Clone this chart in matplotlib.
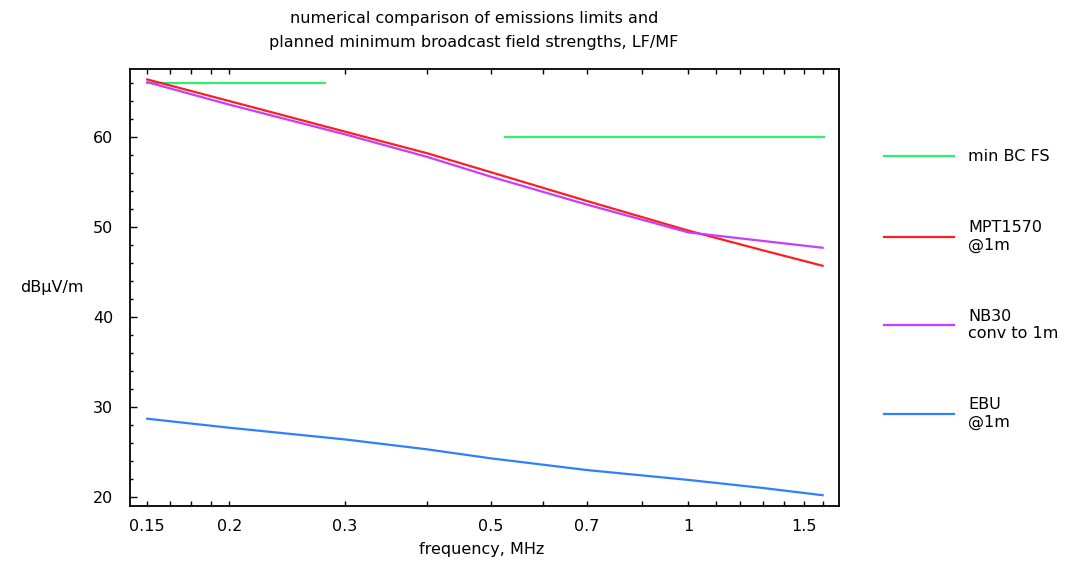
import matplotlib
matplotlib.use('Agg')
import matplotlib.pyplot as plt
import numpy as np
from matplotlib.ticker import FixedLocator, FixedFormatter, NullFormatter

# frequency grid, MHz
freq_mhz = [0.15, 0.2, 0.3, 0.4, 0.5, 0.7, 1.0, 1.3, 1.6]

# limits and field strengths, dBuV/m
mpt1570 = [66.4, 64.0, 60.6, 58.2, 56.1, 52.9, 49.6, 47.4, 45.7]
nb30 = [66.1, 63.6, 60.3, 57.8, 55.6, 52.5, 49.4, 48.45, 47.7]
ebu = [28.7, 27.7, 26.4, 25.3, 24.3, 23.0, 21.9, 21.0, 20.2]

# planned minimum broadcast field strength: LF band, then MF band
min_bc_freq = [0.15, 0.28, np.nan, 0.5265, 1.6065]
min_bc_fs = [66, 66, np.nan, 60, 60]

x_major = [0.15, 0.2, 0.3, 0.5, 0.7, 1.0, 1.5]
x_major_labels = ["0.15", "0.2", "0.3", "0.5", "0.7", "1", "1.5"]
x_minor = [0.1625, 0.175, 0.1875, 0.4, 0.6, 0.85, 1.1, 1.2, 1.3, 1.4, 1.6]

FONT = 11.5

fig = plt.figure(figsize=(10.71, 5.62), dpi=100)
ax = fig.add_axes([0.1214, 0.0996, 0.6620, 0.7776])

ax.plot(min_bc_freq, min_bc_fs, color="#2ef06a", lw=1.6, label="min BC FS")
ax.plot(freq_mhz, mpt1570, color="#ff1e1e", lw=1.6, label="MPT1570\n@1m")
ax.plot(freq_mhz, nb30, color="#c83cff", lw=1.6, label="NB30\nconv to 1m")
ax.plot(freq_mhz, ebu, color="#2f80ff", lw=1.6, label="EBU\n@1m")

ax.set_xscale("log")
ax.set_xlim(0.1412, 1.695)
ax.set_ylim(19.0, 67.56)

ax.xaxis.set_major_locator(FixedLocator(x_major))
ax.xaxis.set_major_formatter(FixedFormatter(x_major_labels))
ax.xaxis.set_minor_locator(FixedLocator(x_minor))
ax.xaxis.set_minor_formatter(NullFormatter())
ax.set_yticks(np.arange(20, 61, 10))
ax.set_yticks(np.arange(20, 67, 2), minor=True)

ax.tick_params(axis="x", which="both", direction="in", top=True, bottom=True,
               length=3.5, width=1, labelsize=FONT, pad=9)
ax.tick_params(axis="y", which="major", direction="in", right=False,
               length=5, width=1, labelsize=FONT, pad=12)
ax.tick_params(axis="y", which="minor", direction="in", right=False,
               length=2.5, width=1)
for spine in ax.spines.values():
    spine.set_linewidth(1.3)

ax.set_xlabel("frequency, MHz", fontsize=FONT, va="center")
ax.xaxis.set_label_coords(0.496, -0.100)
ax.set_ylabel("dB\u03bcV/m", fontsize=FONT, rotation=0, ha="center", va="center")
ax.yaxis.set_label_coords(-0.110, 0.501)

ax.set_title("numerical comparison of emissions limits and\n"
             "planned minimum broadcast field strengths, LF/MF",
             fontsize=FONT, pad=16, x=0.485, linespacing=1.7)

fig.legend(loc="center left", bbox_to_anchor=(0.825, 0.485), frameon=False,
           fontsize=FONT, handlelength=4.4, handletextpad=0.9,
           labelspacing=3.5, borderpad=0, borderaxespad=0)

fig.savefig("out.png", dpi=100)
